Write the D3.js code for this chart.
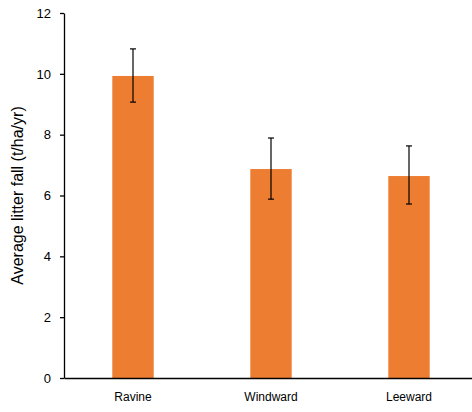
<!DOCTYPE html>
<html>
<head>
<meta charset="utf-8">
<script src="https://cdn.jsdelivr.net/npm/d3@7"></script>
<style>
  body { margin: 0; background: #fff; }
  svg { display: block; font-family: "Liberation Sans", Arial, sans-serif; }
</style>
</head>
<body>
<svg id="chart" width="472" height="412"></svg>
<script>
// Litter fall by site position
const categories = ["Ravine", "Windward", "Leeward"];
const means = [9.93, 6.87, 6.64];
const errLow = [9.07, 5.88, 5.72];
const errHigh = [10.82, 7.89, 7.63];
const yTicks = [0, 2, 4, 6, 8, 10, 12];

const svg = d3.select("#chart");
const plotLeft = 64, plotRight = 478, plotTop = 13, plotBottom = 378;

const x = d3.scaleBand().domain(categories).range([plotLeft, plotRight]).paddingInner(0.7).paddingOuter(0.35);
const y = d3.scaleLinear().domain([0, 12]).range([plotBottom, plotTop]);

// bars
svg.selectAll("rect.bar").data(categories).join("rect")
  .attr("class", "bar")
  .attr("x", d => x(d))
  .attr("width", x.bandwidth())
  .attr("y", (d, i) => y(means[i]))
  .attr("height", (d, i) => y(0) - y(means[i]))
  .attr("fill", "#ED7D31");

// error bars
const eb = svg.selectAll("g.err").data(categories).join("g").attr("class", "err")
  .attr("stroke", "#000").attr("stroke-width", 1.2);
eb.append("line")
  .attr("x1", d => x(d) + x.bandwidth() / 2).attr("x2", d => x(d) + x.bandwidth() / 2)
  .attr("y1", (d, i) => y(errLow[i])).attr("y2", (d, i) => y(errHigh[i]));
eb.append("line")
  .attr("x1", d => x(d) + x.bandwidth() / 2 - 3).attr("x2", d => x(d) + x.bandwidth() / 2 + 3)
  .attr("y1", (d, i) => y(errHigh[i])).attr("y2", (d, i) => y(errHigh[i]));
eb.append("line")
  .attr("x1", d => x(d) + x.bandwidth() / 2 - 3).attr("x2", d => x(d) + x.bandwidth() / 2 + 3)
  .attr("y1", (d, i) => y(errLow[i])).attr("y2", (d, i) => y(errLow[i]));

// y axis
const yAxis = svg.append("g").attr("transform", `translate(${plotLeft},0)`)
  .call(d3.axisLeft(y).tickValues(yTicks).tickSize(4).tickSizeOuter(0).tickPadding(9));
yAxis.select(".domain").attr("stroke", "#000").attr("stroke-width", 1.3);
yAxis.selectAll(".tick line").attr("stroke", "#000").attr("stroke-width", 1.3);
yAxis.selectAll("text").attr("font-size", 13).attr("fill", "#000")
  .attr("font-family", "'Liberation Sans', Arial, sans-serif");

// x axis
const xAxis = svg.append("g").attr("transform", `translate(0,${plotBottom})`)
  .call(d3.axisBottom(x).tickSize(0).tickPadding(14));
xAxis.select(".domain").attr("stroke", "#000").attr("stroke-width", 1.3);
xAxis.selectAll("text").attr("font-size", 12).attr("fill", "#000")
  .attr("font-family", "'Liberation Sans', Arial, sans-serif");

// y title
svg.append("text")
  .attr("transform", `translate(23,${(plotTop + plotBottom) / 2}) rotate(-90)`)
  .attr("text-anchor", "middle")
  .attr("font-size", 16)
  .attr("fill", "#000")
  .text("Average litter fall (t/ha/yr)");
</script>
</body>
</html>
